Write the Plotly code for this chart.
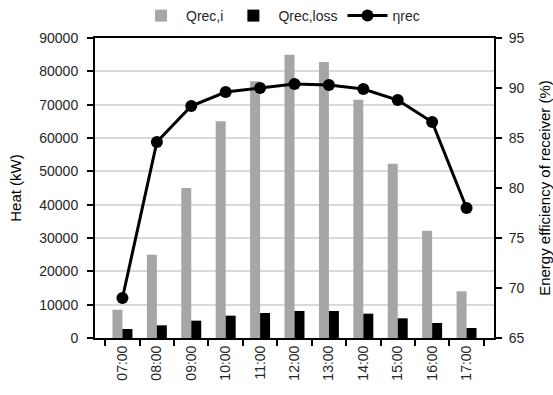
import plotly.graph_objects as go

hours = ["07:00", "08:00", "09:00", "10:00", "11:00", "12:00",
         "13:00", "14:00", "15:00", "16:00", "17:00"]
q_rec_i = [8500, 25000, 45000, 65000, 77000, 85000, 82800, 71500, 52300, 32200, 14000]
q_rec_loss = [2700, 3800, 5200, 6700, 7500, 8100, 8100, 7300, 5900, 4500, 3000]
eta_rec = [69.0, 84.6, 88.2, 89.6, 90.0, 90.4, 90.3, 89.9, 88.8, 86.6, 78.0]

FONT = "Liberation Sans"
TXT = "#262626"

fig = go.Figure()
fig.add_trace(go.Bar(x=hours, y=q_rec_i, name="Qrec,i",
                     marker=dict(color="#a6a6a6", line=dict(width=0))))
fig.add_trace(go.Bar(x=hours, y=q_rec_loss, name="Qrec,loss",
                     marker=dict(color="#000000", line=dict(width=0))))
fig.add_trace(go.Scatter(x=hours, y=eta_rec, name="ηrec", yaxis="y2",
                         mode="lines+markers",
                         line=dict(color="#000000", width=3),
                         marker=dict(color="#000000", size=12)))

fig.update_layout(
    width=553, height=395,
    margin=dict(l=95, r=59, t=38, b=57, autoexpand=False),
    paper_bgcolor="white", plot_bgcolor="white",
    font=dict(family=FONT, size=14, color=TXT),
    barmode="group", bargap=0.42, bargroupgap=0,
    showlegend=True,
    legend=dict(orientation="h", x=0.465, xanchor="center",
                yref="container", y=1.0, yanchor="top",
                font=dict(size=14, color=TXT), itemwidth=40,
                bgcolor="rgba(0,0,0,0)", tracegroupgap=0),
    xaxis=dict(type="category", automargin=False,
               showline=True, linecolor="black", linewidth=2,
               mirror=True, ticks="outside", tickson="boundaries",
               ticklen=6, tickwidth=2, tickcolor="black",
               tickangle=-90, showgrid=False,
               tickfont=dict(size=14, color=TXT)),
    yaxis=dict(range=[0, 90000], dtick=10000, tickformat="d", automargin=False,
               showline=True, linecolor="black",
               linewidth=2, ticks="outside", ticklen=6, tickwidth=2, tickcolor="black",
               ticklabelstandoff=6,
               showgrid=True, gridcolor="#d9d9d9", gridwidth=1.5, zeroline=False,
               title=dict(text="Heat (kW)", standoff=14,
                          font=dict(size=15, color="#000000")),
               tickfont=dict(size=14, color=TXT)),
    yaxis2=dict(range=[65, 95], dtick=5, overlaying="y", side="right",
                automargin=False,
                showline=True, linecolor="black", linewidth=2,
                ticks="outside", ticklen=6, tickwidth=2, tickcolor="black",
                ticklabelstandoff=4,
                showgrid=False, zeroline=False,
                title=dict(text="Energy efficiency of receiver (%)", standoff=18,
                           font=dict(size=15, color="#000000")),
                tickfont=dict(size=14, color=TXT)),
)

fig.write_html("out.html")
